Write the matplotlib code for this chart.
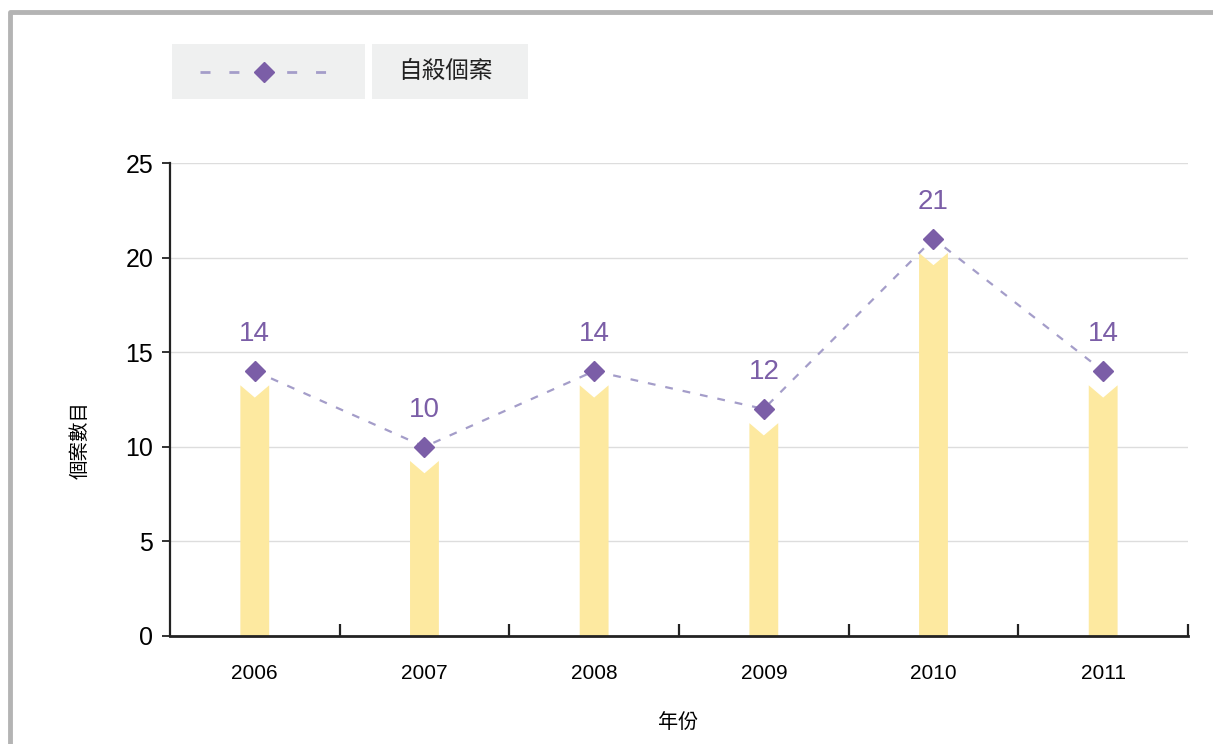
import matplotlib.pyplot as plt
from matplotlib.patches import Polygon, Rectangle
from matplotlib.lines import Line2D

plt.rcParams['font.family'] = ['Liberation Sans', 'Noto Sans CJK TC', 'DejaVu Sans']

# data
years = ['2006', '2007', '2008', '2009', '2010', '2011']
cases = [14, 10, 14, 12, 21, 14]
series_name = '自殺個案'
x_title = '年份'
y_title = '個案數目'

purple = '#7b5ea7'
line_col = '#a49dc9'
bar_col = '#fde9a0'

fig = plt.figure(figsize=(12.13, 7.44), dpi=100)
ax = fig.add_axes([0.1401, 0.1452, 0.8393, 0.6357])

# bars with a notched top pointing at the marker
w = 0.17
for i, v in enumerate(cases):
    pts = [(i - w / 2, 0), (i - w / 2, v - 0.75), (i, v - 1.4),
           (i + w / 2, v - 0.75), (i + w / 2, 0)]
    ax.add_patch(Polygon(pts, closed=True, facecolor=bar_col, edgecolor='none', zorder=2))

xs = list(range(len(years)))
ax.plot(xs, cases, color=line_col, lw=1.6, dashes=(3.5, 4.5), zorder=3)
ax.plot(xs, cases, ls='none', marker='D', ms=10, color=purple, zorder=4)
for i, v in enumerate(cases):
    ax.annotate(str(v), (i, v), xytext=(0, 26.5), textcoords='offset points',
                ha='center', va='center', fontsize=20, color=purple)

ax.set_xlim(-0.5, 5.5)
ax.set_ylim(0, 25)
ax.set_yticks([0, 5, 10, 15, 20, 25])
ax.tick_params(axis='y', labelsize=18, length=6, width=1.3, color='#222222', pad=6)
ax.yaxis.grid(True, color='#dddddd', lw=1)
ax.set_axisbelow(True)

ax.set_xticks(xs)
ax.set_xticklabels(years)
ax.set_xticks([i + 0.5 for i in xs], minor=True)
ax.tick_params(axis='x', which='major', length=0, labelsize=15, pad=20)
ax.tick_params(axis='x', which='minor', direction='in', length=9, width=1.6, color='#222222')

for s in ['top', 'right']:
    ax.spines[s].set_visible(False)
ax.spines['left'].set_linewidth(1.6)
ax.spines['bottom'].set_linewidth(2)
ax.spines['left'].set_color('#222222')
ax.spines['bottom'].set_color('#222222')

fig.text(80 / 1213, 1 - 440 / 744, y_title, rotation=90, ha='center', va='center', fontsize=14)
fig.text(678 / 1213, 1 - 722 / 744, x_title, ha='center', va='center', fontsize=14.5)

# legend boxes
W, H = 1213, 744
fig.patches.append(Rectangle((172 / W, 1 - 99 / H), 193 / W, 55 / H, transform=fig.transFigure,
                             facecolor='#eff0f0', edgecolor='none'))
fig.patches.append(Rectangle((372 / W, 1 - 99 / H), 156 / W, 55 / H, transform=fig.transFigure,
                             facecolor='#eff0f0', edgecolor='none'))
fig.lines.append(Line2D([200 / W, 328 / W], [1 - 72 / H] * 2, transform=fig.transFigure,
                        color=line_col, lw=2, dashes=(3.6, 6.8)))
fig.lines.append(Line2D([264 / W], [1 - 72 / H], transform=fig.transFigure,
                        marker='D', ms=10, color=purple, ls='none'))
fig.text(445 / W, 1 - 72 / H, series_name, ha='center', va='center', fontsize=17, color='#222222')

# frame
fig.lines.append(Line2D([10 / W, 10 / W, 1.0], [0, 1 - 12 / H, 1 - 12 / H],
                        transform=fig.transFigure, color='#b4b4b4', lw=3.5))

fig.savefig('out.png', dpi=100)
